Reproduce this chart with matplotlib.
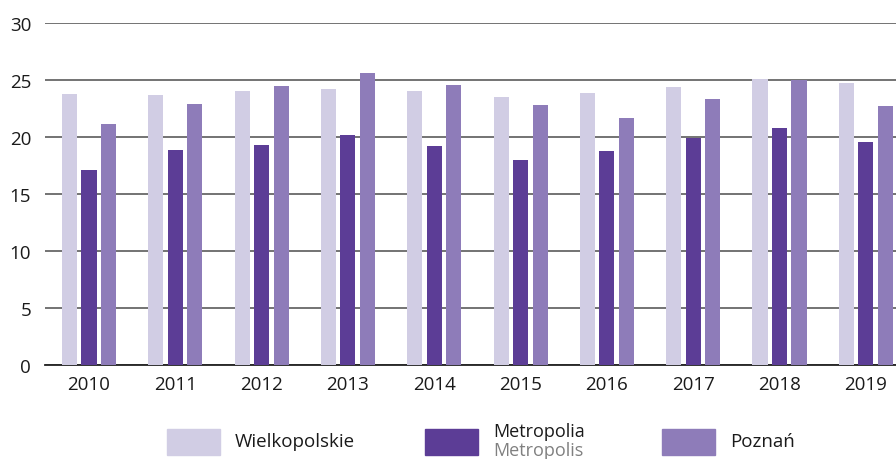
import numpy as np
import matplotlib
matplotlib.use("Agg")
import matplotlib.pyplot as plt
from matplotlib.patches import Rectangle

plt.rcParams['font.family'] = ['Open Sans', 'DejaVu Sans']

# ---------------------------
# Data
# ---------------------------
years = ["2010", "2011", "2012", "2013", "2014", "2015", "2016", "2017", "2018", "2019"]
wielkopolskie = [23.8, 23.7, 24.0, 24.2, 24.0, 23.5, 23.9, 24.4, 25.1, 24.7]
metropolia = [17.1, 18.9, 19.3, 20.2, 19.2, 18.0, 18.8, 19.9, 20.8, 19.6]
poznan = [21.1, 22.9, 24.5, 25.6, 24.6, 22.8, 21.7, 23.3, 25.0, 22.7]

c_wlkp = "#d1cde4"
c_metro = "#5c3d96"
c_pozn = "#8e7cb9"

fig = plt.figure(figsize=(8.96, 4.6), dpi=100)
ax = fig.add_axes([45 / 896, 1 - 366 / 460, 1 - 45 / 896, (366 - 24) / 460])

x = np.arange(len(years))
w = 0.175
off = 0.226
ax.bar(x - off, wielkopolskie, w, color=c_wlkp, zorder=3)
ax.bar(x, metropolia, w, color=c_metro, zorder=3)
ax.bar(x + off, poznan, w, color=c_pozn, zorder=3)

ax.set_ylim(0, 30)
ax.set_xlim(-0.51, 9.35)
ax.set_yticks(range(0, 31, 5))
ax.set_xticks(x)
ax.set_xticklabels(years)
ax.yaxis.grid(True, color="#4d4d4d", linewidth=1.1, zorder=0)
ax.set_axisbelow(True)
for s in ["top", "right", "left"]:
    ax.spines[s].set_visible(False)
ax.spines["bottom"].set_color("#222222")
ax.spines["bottom"].set_linewidth(1.3)
ax.tick_params(axis="both", length=0, labelsize=13.5, colors="#1a1a1a")
ax.tick_params(axis="y", pad=10)
ax.tick_params(axis="x", pad=7)

# ---------------------------
# Legend (drawn by hand)
# ---------------------------
items = [
    (167, c_wlkp, "Wielkopolskie", None),
    (425, c_metro, "Metropolia", "Metropolis"),
    (662, c_pozn, "Poznań", None),
]
for px, col, lab, sub in items:
    fig.add_artist(Rectangle((px / 896, 1 - 456 / 460), 53 / 896, 26 / 460,
                             transform=fig.transFigure, color=col))
    tx = (px + 68) / 896
    if sub is None:
        fig.text(tx, 1 - 442 / 460, lab, fontsize=13.5, color="#1a1a1a", va="center")
    else:
        fig.text(tx, 1 - 432 / 460, lab, fontsize=13, color="#1a1a1a", va="center")
        fig.text(tx, 1 - 451 / 460, sub, fontsize=13, color="#808080", va="center")

fig.savefig("out.png", dpi=100)
